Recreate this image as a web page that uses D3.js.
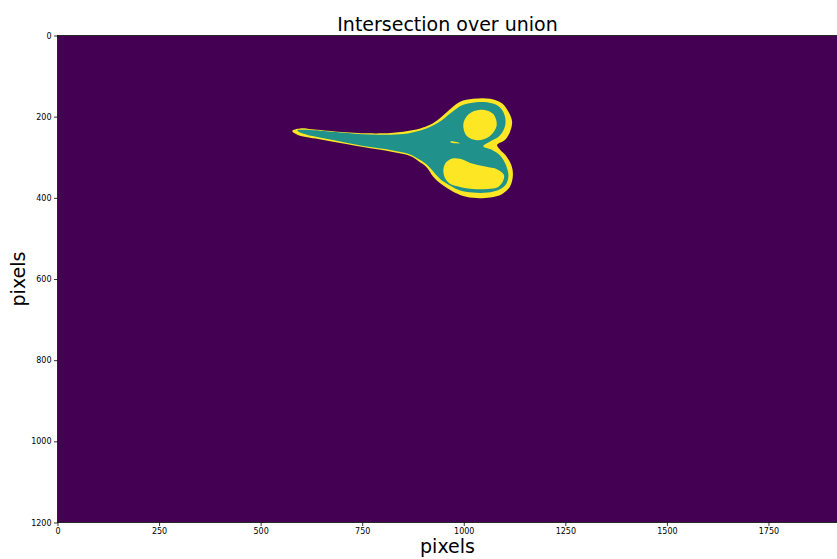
<!DOCTYPE html>
<html>
<head>
<meta charset="utf-8">
<script src="https://cdn.jsdelivr.net/npm/d3@7"></script>
<style>
  html, body { margin: 0; padding: 0; background: #fff; }
  svg { display: block; font-family: "DejaVu Sans", sans-serif; }
</style>
</head>
<body>
<svg id="chart" width="837" height="559"></svg>
<script>
// Image size in pixels and tick values
const imageWidth = 1920;
const imageHeight = 1200;
const xTicks = [0, 250, 500, 750, 1000, 1250, 1500, 1750];
const yTicks = [0, 200, 400, 600, 800, 1000, 1200];

// Mask values: 0 = background, 1 = one mask only (union minus intersection), 0.5 = both masks
const classLevels = [0, 0.5, 1];
const classColors = ["#440154", "#21918c", "#fde725"];

// Outline of the union of both masks (image pixel coordinates)
const unionOutline = [
  [578,235],[597,229],[626,231],[691,237],[765,241],[802,241],[851,237],[893,229],
  [917,220],[942,203],[967,181],[991,163],[1023,156],[1065,156],[1094,167],[1110,188],
  [1119,212],[1114,237],[1102,257],[1082,270],[1090,282],[1102,294],[1117,319],[1121,344],
  [1114,372],[1094,391],[1065,399],[1023,400],[991,393],[967,381],[942,364],[925,348],
  [908,324],[888,309],[868,297],[819,286],[770,278],[696,265],[642,255],[592,245]
];

// Outline of the intersection of both masks
const intersectionOutline = [
  [590,234],[622,233],[696,239],[770,244],[851,243],[893,234],[922,223],[947,208],
  [972,188],[996,172],[1026,165],[1060,165],[1082,172],[1097,188],[1103,211],[1098,233],
  [1085,250],[1065,261],[1048,273],[1070,282],[1090,296],[1103,317],[1110,344],[1105,365],
  [1087,380],[1058,387],[1021,387],[991,382],[967,370],[947,358],[930,341],[912,321],
  [893,307],[868,293],[819,282],[770,275],[696,261],[642,251],[602,241]
];

// Finger holes where only one mask is set
const upperHole = [
  [1041,183],[1012,194],[999,218],[1007,247],[1033,258],[1063,249],[1081,222],[1072,193]
];
const lowerHole = [
  [950,329],[957,312],[972,303],[991,304],[1016,314],[1053,323],[1083,330],[1099,344],
  [1097,358],[1085,373],[1058,378],[1023,378],[991,373],[967,366],[953,349]
];
// Small sliver near the pivot
const pivotSliver = [
  [967,261],[979,261.5],[991,265.5],[979,265.5],[968,263.5]
];

const svg = d3.select("#chart");
const margin = { left: 57.5, top: 35.5 };
const plotW = 780, plotH = 487;

const x = d3.scaleLinear().domain([0, imageWidth]).range([margin.left, margin.left + plotW]);
const y = d3.scaleLinear().domain([0, imageHeight]).range([margin.top, margin.top + plotH]);
const color = d3.scaleOrdinal().domain(classLevels).range(classColors);

const clipId = "plot-clip";
svg.append("defs").append("clipPath").attr("id", clipId)
  .append("rect")
  .attr("x", x(0)).attr("y", y(0))
  .attr("width", x(imageWidth) - x(0)).attr("height", y(imageHeight) - y(0));

const plot = svg.append("g").attr("clip-path", `url(#${clipId})`);

// Background
plot.append("rect")
  .attr("x", x(0)).attr("y", y(0))
  .attr("width", x(imageWidth) - x(0)).attr("height", y(imageHeight) - y(0))
  .attr("fill", color(0));

const shape = d3.line()
  .x(d => x(d[0])).y(d => y(d[1]))
  .curve(d3.curveCatmullRomClosed.alpha(0.5));

const layers = [
  { pts: unionOutline, level: 1 },
  { pts: intersectionOutline, level: 0.5 },
  { pts: upperHole, level: 1 },
  { pts: lowerHole, level: 1 },
  { pts: pivotSliver, level: 1 }
];
plot.selectAll("path.mask")
  .data(layers)
  .join("path")
  .attr("class", "mask")
  .attr("d", d => shape(d.pts))
  .attr("fill", d => color(d.level));

// Spines
svg.append("rect")
  .attr("x", x(0)).attr("y", y(0))
  .attr("width", x(imageWidth) - x(0)).attr("height", y(imageHeight) - y(0))
  .attr("fill", "none").attr("stroke", "#000").attr("stroke-width", 0.8);

// Axes
const fmt = d3.format("d");
const xAxis = svg.append("g")
  .attr("transform", `translate(0,${y(imageHeight)})`)
  .call(d3.axisBottom(x).tickValues(xTicks).tickFormat(fmt).tickSize(3.5).tickPadding(2));
const yAxis = svg.append("g")
  .attr("transform", `translate(${x(0)},0)`)
  .call(d3.axisLeft(y).tickValues(yTicks).tickFormat(fmt).tickSize(3.5).tickPadding(2.5));
[xAxis, yAxis].forEach(g => {
  g.select(".domain").remove();
  g.selectAll(".tick line").attr("stroke", "#000").attr("stroke-width", 0.8);
  g.selectAll(".tick text")
    .attr("fill", "#000")
    .style("font-family", "'DejaVu Sans', sans-serif")
    .style("font-size", "8px");
});

// Title and axis labels
svg.append("text")
  .attr("x", margin.left + plotW / 2).attr("y", 30.5)
  .attr("text-anchor", "middle")
  .style("font-size", "19px").attr("fill", "#000")
  .text("Intersection over union");

svg.append("text")
  .attr("x", margin.left + plotW / 2).attr("y", 552.5)
  .attr("text-anchor", "middle")
  .style("font-size", "19px").attr("fill", "#000")
  .text("pixels");

svg.append("text")
  .attr("transform", `translate(24.5,${margin.top + plotH / 2}) rotate(-90)`)
  .attr("text-anchor", "middle")
  .style("font-size", "19px").attr("fill", "#000")
  .text("pixels");
</script>
</body>
</html>
